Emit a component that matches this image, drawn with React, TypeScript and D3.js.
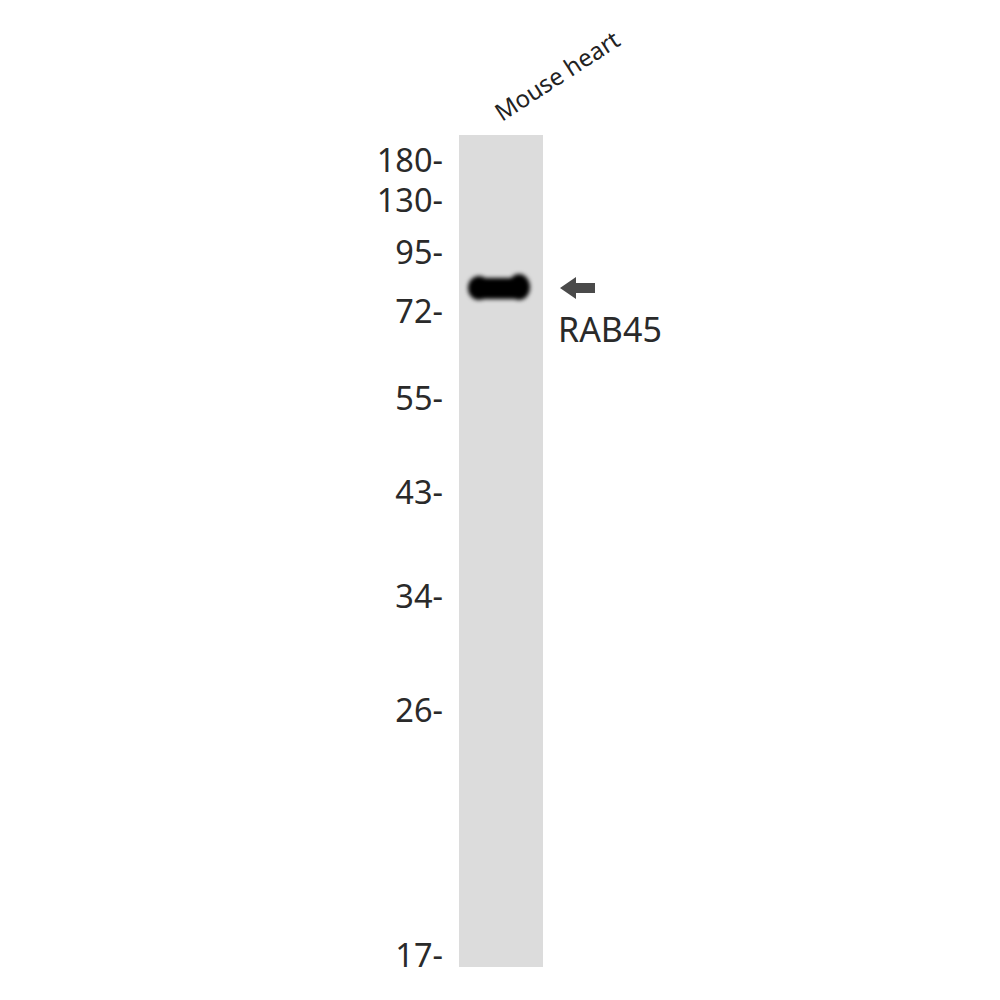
import React from "react";
import * as d3 from "d3";

// ---- data ----
const lanes: string[] = ["Mouse heart"];
const markerKDa: number[] = [180, 130, 95, 72, 55, 43, 34, 26, 17];
// relative migration (fraction of lane length) of each marker
const markerRf: number[] = [0.031, 0.079, 0.141, 0.212, 0.316, 0.429, 0.554, 0.691, 0.986];
const bandLane: string[] = ["Mouse heart"];
const bandRf: number[] = [0.184];
const bandLabel: string[] = ["RAB45"];

const W = 1000;
const H = 1000;
const laneTop = 135;
const laneBottom = 967;
const laneLeft = 459;
const laneRight = 543;
const FONT = "'Noto Sans', 'Open Sans', sans-serif";

export default function App() {
  const x = d3.scaleBand<string>().domain(lanes).range([laneLeft, laneRight]).padding(0);
  const y = d3.scaleLinear().domain([0, 1]).range([laneTop, laneBottom]);

  return (
    <svg width={W} height={H} style={{ position: "absolute", left: 0, top: 0, background: "#fff" }}>
      <defs>
        <filter id="blur" x="-30%" y="-80%" width="160%" height="260%">
          <feGaussianBlur stdDeviation="2.2" />
        </filter>
      </defs>
      {lanes.map((l) => (
        <g key={l}>
          <rect x={x(l)} y={laneTop} width={x.bandwidth()} height={laneBottom - laneTop} fill="#dcdcdc" />
          <text
            transform={`translate(${(x(l) as number) + 43},${laneTop - 13}) rotate(-33)`}
            fontFamily={FONT}
            fontSize={24}
            fill="#222"
          >
            {l}
          </text>
        </g>
      ))}
      {markerKDa.map((m, i) => (
        <text
          key={m}
          x={443}
          y={y(markerRf[i])}
          dy="0.36em"
          textAnchor="end"
          fontFamily={FONT}
          fontSize={32.5}
          fill="#2a2a2a"
        >
          {m}-
        </text>
      ))}
      {bandRf.map((rf, i) => {
        const cx = (x(bandLane[i]) as number) + x.bandwidth() / 2 - 2;
        const cy = y(rf);
        return (
          <g key={i}>
            <g filter="url(#blur)" fill="#050505">
              <rect x={cx - 30} y={cy - 10} width={60} height={21} rx={9} />
              <ellipse cx={cx - 20} cy={cy} rx={11} ry={12} />
              <ellipse cx={cx + 20} cy={cy - 1} rx={11} ry={13} />
              <ellipse cx={cx} cy={cy + 1} rx={16} ry={10} />
            </g>
            <path
              d={`M${laneRight + 17},${cy} l16,-11 v6 h19 v10 h-19 v6 z`}
              fill="#4a4a4a"
            />
            <text
              x={laneRight + 15}
              y={cy + 42}
              dy="0.36em"
              fontFamily={FONT}
              fontSize={34}
              fill="#2a2a2a"
            >
              {bandLabel[i]}
            </text>
          </g>
        );
      })}
    </svg>
  );
}
